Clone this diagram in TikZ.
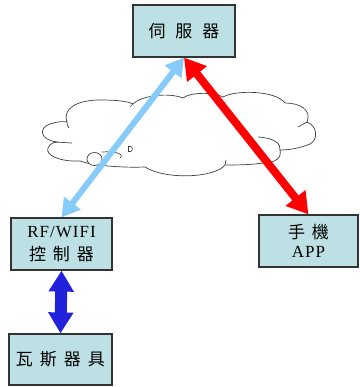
\documentclass[tikz,border=0pt]{standalone}
\usepackage{fontspec}
\setmainfont{Liberation Serif}[LetterSpace=6]
\newfontfamily\cjk{Noto Sans CJK TC}
\usetikzlibrary{arrows.meta}
\definecolor{boxfill}{HTML}{BCE0E3}
\definecolor{skyarrow}{HTML}{87CBFA}
\definecolor{deepblue}{HTML}{2222DD}
\tikzset{
  box/.style={draw=black!80, line width=1.2pt, fill=boxfill, inner sep=0pt, align=center, font=\fontsize{17}{24}\selectfont},
  cloudline/.style={draw=black!75, line width=0.7pt},
}
\newcommand{\gap}{\hspace{7pt}}
\begin{document}
\begin{tikzpicture}[x=1pt,y=-1pt]
\useasboundingbox (0,0) rectangle (359,387);
% cloud
\path[cloudline, fill=white] (67,122)
  .. controls (62,108) and (78,100) .. (100,100)
  .. controls (115,100) and (127,101) .. (133,104)
  .. controls (140,96) and (168,92) .. (183,98)
  .. controls (190,92) and (215,92) .. (223,97)
  .. controls (235,90) and (275,90) .. (285,103)
  .. controls (300,103) and (312,110) .. (307,122)
  .. controls (318,126) and (318,140) .. (310,144)
  .. controls (300,148) and (290,150) .. (280,150)
  .. controls (282,158) and (275,163) .. (263,163)
  .. controls (250,165) and (235,165) .. (225,165)
  .. controls (215,178) and (165,180) .. (145,167)
  .. controls (120,168) and (90,165) .. (80,161)
  .. controls (60,162) and (45,155) .. (48,148)
  .. controls (50,143) and (55,142) .. (57,142)
  .. controls (40,140) and (38,128) .. (50,124)
  .. controls (56,122) and (62,121) .. (67,122) -- cycle;
\draw[cloudline] (67,122) .. controls (67,125) .. (69,128);
\draw[cloudline] (133,104) .. controls (131,105) .. (130,107);
\draw[cloudline] (55,142) -- (72,143);
\draw[cloudline] (307,122) -- (298,127);
\draw[cloudline] (258,137) .. controls (275,138) and (281,144) .. (280,150);
\draw[cloudline] (225,165) -- (226,160);
\draw[cloudline] (102,152) .. controls (115,151) and (125,154) .. (120,158);
\draw[cloudline, fill=white] (94.5,159) ellipse [x radius=7.5pt, y radius=6.5pt];
\draw[cloudline, line width=0.6pt] (128.5,146.5) -- (128.5,151.5) -- (130.5,151.5) .. controls (133,151.5) and (133,146.5) .. (130.5,146.5) -- cycle;
% boxes
\node[box, minimum width=102pt, minimum height=52pt] (server) at (184,31) {\cjk 伺\hspace{10pt}服\hspace{10pt}器};
\node[box, minimum width=101pt, minimum height=52pt] (rf) at (61.5,244) {RF/WIFI\\[-1pt]{\cjk 控\gap 制\gap 器}};
\node[box, minimum width=99pt, minimum height=52pt] (app) at (308.5,241) {{\cjk 手\gap 機}\\[-5pt]APP};
\node[box, minimum width=103pt, minimum height=51pt] (gas) at (60.5,359.5) {\cjk 瓦\gap 斯\gap 器\gap 具};
% arrows
\draw[skyarrow, line width=6pt, {Triangle[length=18pt,width=20pt]}-{Triangle[length=18pt,width=20pt]}] (server.south) -- (rf.north);
\draw[red, line width=8pt, {Triangle[length=21pt,width=24pt]}-{Triangle[length=21pt,width=24pt]}] (server.south) -- (app.north);
\draw[deepblue, line width=12pt, {Triangle[length=21pt,width=24pt]}-{Triangle[length=21pt,width=24pt]}] (rf.south) -- (gas.north);
\end{tikzpicture}
\end{document}
